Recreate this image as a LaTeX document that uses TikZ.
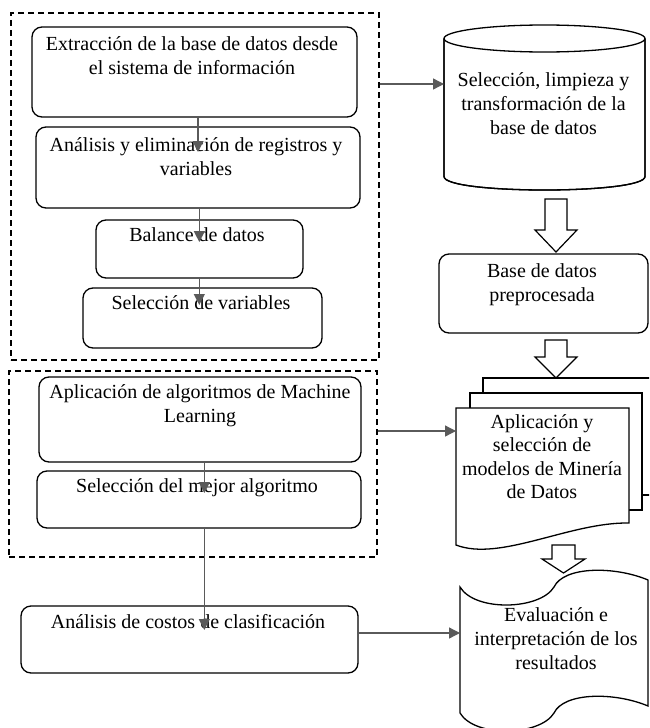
\documentclass[tikz,border=0pt]{standalone}
\usepackage{fontspec}
\setmainfont{Liberation Serif}
\usetikzlibrary{arrows.meta}
\definecolor{conngray}{HTML}{5A5A5A}
\newcommand\mylines[1]{\begin{tabular}[t]{@{}c@{}}#1\end{tabular}}
\tikzset{
  box/.style={draw, line width=1.3pt, rounded corners=10pt, inner sep=0pt},
  group/.style={draw, line width=1.2pt, dash pattern=on 6pt off 4pt, inner sep=0pt},
  txt/.style={inner sep=0pt, anchor=base, font=\fontsize{20}{24}\selectfont},
  conn/.style={draw=conngray, line width=1.3pt, -{Triangle[length=11pt,width=11pt]}},
  shapeline/.style={draw, line width=1.3pt, fill=white, line join=miter},
  blockarrow/.style={draw, line width=1.2pt, fill=white, line join=miter}
}
\begin{document}
\begin{tikzpicture}[x=1pt,y=-1pt]
\useasboundingbox (0,0) rectangle (649,728);
\clip (0,0) rectangle (649,728);

% dashed groups
\node[group, minimum width=368pt, minimum height=347pt] (d1) at (195,186.5) {};
\node[group, minimum width=368pt, minimum height=186pt] (d2) at (193,464) {};

% left boxes
\node[box, minimum width=325pt, minimum height=90pt] (b1) at (194.5,72) {};
\node[box, minimum width=324pt, minimum height=81pt] (b2) at (198,167.5) {};
\node[box, minimum width=207pt, minimum height=58pt] (b3) at (199.5,249) {};
\node[box, minimum width=239pt, minimum height=60pt] (b4) at (202.5,318) {};
\node[box, minimum width=322pt, minimum height=85pt] (b5) at (200,419.5) {};
\node[box, minimum width=324pt, minimum height=57pt] (b6) at (199,499.5) {};
\node[box, minimum width=337pt, minimum height=67pt] (b7) at (189.5,639.5) {};

\node[txt] (t1) at (192,50) {\mylines{Extracción de la base de datos desde\\el sistema de información}};
\node[txt] (t2) at (196,151.5) {\mylines{Análisis y eliminación de registros y\\variables}};
\node[txt] (t3) at (197,241.5) {Balance de datos};
\node[txt] (t4) at (201,309.5) {Selección de variables};
\node[txt] (t5) at (200,398.5) {\mylines{Aplicación de algoritmos de Machine\\Learning}};
\node[txt] (t6) at (197,492.5) {Selección del mejor algoritmo};
\node[txt] (t7) at (188,628.5) {Análisis de costos de clasificación};

% cylinder
\path[shapeline] (444,38.5) -- (444,176.5) .. controls (444,194.5) and (645,194.5) .. (645,176.5) -- (645,38.5);
\draw[line width=1.3pt] (444,38.5) -- (444,176.5) .. controls (444,194.5) and (645,194.5) .. (645,176.5) -- (645,38.5);
\draw[line width=1.3pt, fill=white] (544.5,38.5) ellipse [x radius=100.5pt, y radius=13.5pt];
\node[txt] (tc) at (543.5,86) {\mylines{Selección, limpieza y\\transformación de la\\base de datos}};

% preprocessed box
\node[box, minimum width=209pt, minimum height=79pt] (b8) at (543.5,293.5) {};
\node[txt] (t8) at (542,277) {\mylines{Base de datos\\preprocesada}};

% multi-document
\path[shapeline] (483,378) rectangle (660,495);
\path[shapeline] (470,393) rectangle (642,510);
\path[shapeline] (456,545) -- (456,408) -- (629,408) -- (629,523)
  .. controls (570,522) and (500,562) .. (456,545) -- cycle;
\node[txt] (td) at (542,428.5) {\fontsize{20}{23.3}\selectfont\mylines{Aplicación y\\selección de\\modelos de Minería\\de Datos}};

% punched tape
\path[shapeline] (460,587) .. controls (475,612) and (540,610) .. (554,587)
  .. controls (564,566) and (615,566) .. (648,580) -- (648,706)
  .. controls (615,692) and (564,692) .. (554,713)
  .. controls (540,736) and (475,738) .. (460,713) -- cycle;
\node[txt] (tt) at (556,621.5) {\mylines{Evaluación e\\interpretación de los\\resultados}};

% block arrows
\path[blockarrow] (545,199) -- (567,199) -- (567,230) -- (577,230) -- (556,252) -- (535,230) -- (545,230) -- cycle;
\path[blockarrow] (545,340) -- (567,340) -- (567,357) -- (577,357) -- (556,378) -- (535,357) -- (545,357) -- cycle;
\path[blockarrow] (552,545) -- (575,545) -- (575,559) -- (585,559) -- (563.5,573) -- (542,559) -- (552,559) -- cycle;

% connectors
\coordinate (a1e) at (198,152);
\coordinate (a2e) at (199.3,242);
\coordinate (a3e) at (199.3,305);
\coordinate (a4e) at (204.3,493);
\coordinate (a5e) at (204.3,630);
\coordinate (h1e) at (444,84);
\coordinate (h2e) at (456,431);
\coordinate (h3e) at (460,633);
\draw[conn] (b1.south -| a1e) -- (a1e);
\draw[conn] (b2.south -| a2e) -- (a2e);
\draw[conn] (b3.south -| a3e) -- (a3e);
\draw[conn] (b5.south -| a4e) -- (a4e);
\draw[conn] (b6.south -| a5e) -- (a5e);
\draw[conn] (d1.east |- h1e) -- (h1e);
\draw[conn] (d2.east |- h2e) -- (h2e);
\draw[conn] (b7.east |- h3e) -- (h3e);
\end{tikzpicture}
\end{document}
